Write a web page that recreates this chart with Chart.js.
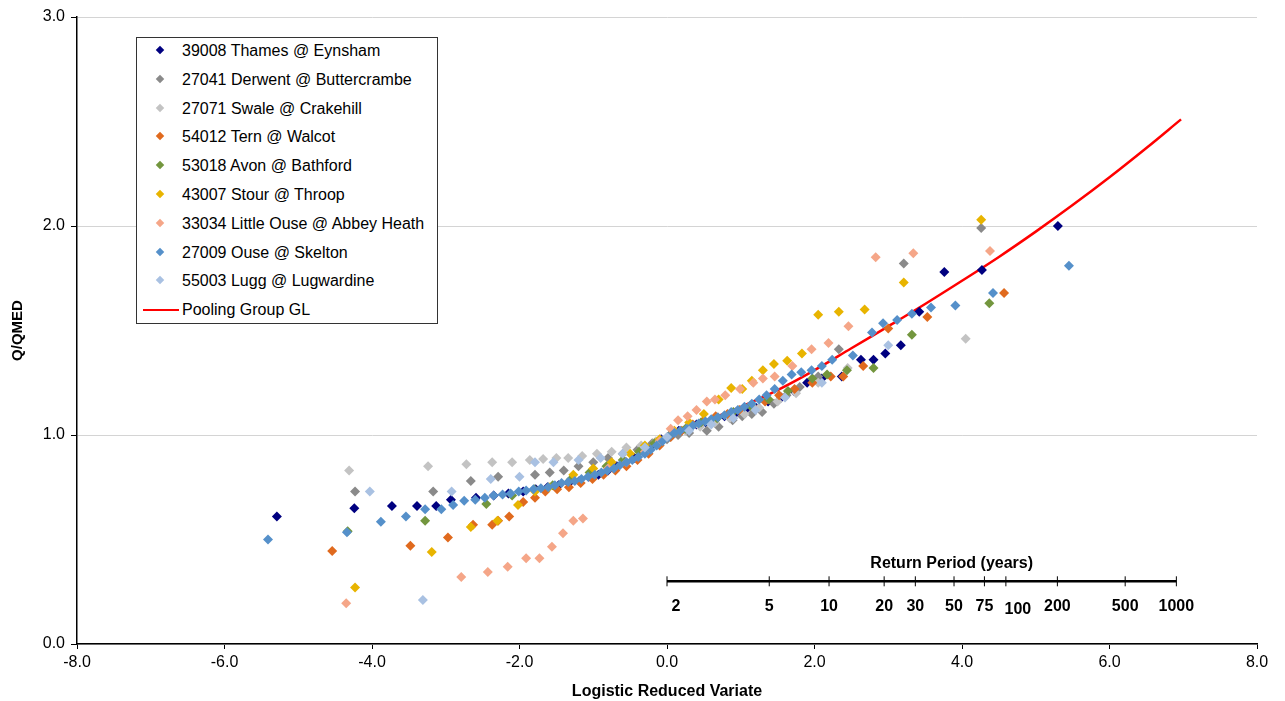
<!DOCTYPE html>
<html>
<head>
<meta charset="utf-8">
<script src="https://cdn.jsdelivr.net/npm/chart.js@4/dist/chart.umd.min.js"></script>
<style>
  body { margin: 0; background: #fff; }
  #wrap { position: relative; width: 1285px; height: 701px; }
  #legend {
    position: absolute; left: 136px; top: 37px; width: 302px; height: 287px;
    border: 1px solid #333; background: #fff; box-sizing: border-box;
    font-family: "Liberation Sans", Arial, sans-serif; font-size: 16px; color: #000;
  }
  .item { position: absolute; left: 0; height: 20px; line-height: 20px; white-space: nowrap; }
  .item .mk { position: absolute; left: 20px; top: 6px; width: 6px; height: 6px; transform: rotate(45deg); }
  .item .ln { position: absolute; left: 6px; top: 9px; width: 36px; height: 2px; background: #ff0000; }
  .item .tx { position: absolute; left: 45px; }
</style>
</head>
<body>
<div id="wrap">
  <canvas id="chart" width="1285" height="701"></canvas>
  <div id="legend"></div>
</div>
<script>
// station names for the legend
const stationNames = [
    '39008 Thames @ Eynsham',
    '27041 Derwent @ Buttercrambe',
    '27071 Swale @ Crakehill',
    '54012 Tern @ Walcot',
    '53018 Avon @ Bathford',
    '43007 Stour @ Throop',
    '33034 Little Ouse @ Abbey Heath',
    '27009 Ouse @ Skelton',
    '55003 Lugg @ Lugwardine'
];
const curveName = 'Pooling Group GL';

// [logistic reduced variate, Q/QMED]
const thames = [[-5.29,0.61],[-4.24,0.65],[-3.73,0.66],[-3.39,0.66],[-3.13,0.66],[-2.93,0.69],[-2.59,0.70],[-2.35,0.71],[-2.15,0.72],[-1.95,0.73],[-1.78,0.74],[-1.62,0.75],[-1.47,0.76],[-1.33,0.77],[-1.19,0.78],[-1.06,0.80],[-0.93,0.81],[-0.80,0.83],[-0.68,0.85],[-0.56,0.87],[-0.44,0.89],[-0.32,0.92],[-0.20,0.95],[-0.08,0.98],[0.04,1.00],[0.16,1.02],[0.28,1.03],[0.40,1.05],[0.52,1.06],[0.65,1.07],[0.78,1.09],[0.92,1.10],[1.06,1.12],[1.21,1.13],[1.37,1.16],[1.55,1.18],[1.72,1.21],[1.90,1.25],[2.10,1.27],[2.37,1.28],[2.63,1.36],[2.80,1.36],[2.96,1.39],[3.17,1.43],[3.42,1.59],[3.76,1.78],[4.27,1.79],[5.30,2.00]];
const derwent = [[-4.23,0.73],[-3.17,0.73],[-2.66,0.78],[-2.29,0.80],[-1.79,0.81],[-1.59,0.82],[-1.40,0.83],[-1.20,0.85],[-1.00,0.87],[-0.80,0.89],[-0.60,0.91],[-0.40,0.93],[-0.20,0.96],[0.00,0.98],[0.15,1.00],[0.30,1.01],[0.54,1.02],[0.70,1.04],[0.89,1.07],[1.02,1.09],[1.15,1.10],[1.29,1.11],[1.45,1.15],[1.62,1.19],[1.80,1.23],[2.05,1.28],[2.33,1.41],[3.21,1.82],[4.26,1.99]];
const swale = [[-4.31,0.83],[-3.24,0.85],[-2.72,0.86],[-2.37,0.87],[-2.10,0.87],[-1.86,0.88],[-1.68,0.885],[-1.50,0.89],[-1.34,0.89],[-1.15,0.90],[-0.95,0.91],[-0.75,0.92],[-0.55,0.94],[-0.35,0.95],[-0.15,0.97],[0.05,0.99],[0.25,1.02],[0.45,1.04],[0.65,1.06],[0.85,1.08],[1.05,1.10],[1.25,1.13],[1.50,1.16],[1.75,1.20],[2.05,1.25],[2.45,1.32],[4.05,1.46]];
const tern = [[-4.54,0.445],[-3.48,0.47],[-2.97,0.51],[-2.63,0.57],[-2.37,0.57],[-2.29,0.59],[-2.14,0.61],[-1.95,0.68],[-1.79,0.70],[-1.65,0.73],[-1.49,0.74],[-1.33,0.75],[-1.17,0.77],[-1.01,0.79],[-0.86,0.81],[-0.70,0.83],[-0.55,0.85],[-0.40,0.88],[-0.25,0.91],[-0.10,0.95],[0.05,0.99],[0.20,1.02],[0.35,1.05],[0.50,1.07],[0.66,1.09],[0.82,1.10],[0.98,1.12],[1.15,1.14],[1.33,1.16],[1.52,1.19],[1.73,1.22],[1.97,1.25],[2.22,1.28],[2.39,1.28],[2.66,1.33],[3.00,1.51],[3.53,1.565],[4.57,1.68]];
const avon = [[-4.33,0.54],[-3.28,0.59],[-2.45,0.67],[-2.10,0.71],[-1.80,0.74],[-1.55,0.76],[-1.30,0.79],[-1.05,0.82],[-0.82,0.85],[-0.60,0.88],[-0.38,0.92],[-0.17,0.96],[0.04,1.00],[0.25,1.03],[0.46,1.06],[0.68,1.08],[0.90,1.11],[1.13,1.14],[1.38,1.17],[1.64,1.21],[1.97,1.27],[2.17,1.29],[2.44,1.31],[2.80,1.32],[3.32,1.48],[4.37,1.63]];
const stour = [[-4.23,0.27],[-3.19,0.44],[-2.66,0.56],[-2.30,0.59],[-2.02,0.665],[-1.79,0.73],[-1.60,0.75],[-1.27,0.81],[-1.00,0.84],[-0.75,0.87],[-0.50,0.91],[-0.30,0.95],[-0.10,0.98],[0.10,1.02],[0.30,1.06],[0.50,1.10],[0.70,1.17],[0.87,1.225],[1.02,1.22],[1.15,1.26],[1.30,1.31],[1.45,1.34],[1.63,1.355],[1.83,1.39],[2.05,1.575],[2.33,1.59],[2.68,1.60],[3.21,1.73],[4.26,2.03]];
const littleOuse = [[-4.35,0.195],[-2.79,0.32],[-2.43,0.345],[-2.16,0.37],[-1.91,0.41],[-1.73,0.41],[-1.56,0.465],[-1.41,0.53],[-1.27,0.59],[-1.14,0.60],[-0.80,0.84],[-0.55,0.87],[-0.30,0.92],[-0.10,0.97],[0.05,1.03],[0.15,1.07],[0.28,1.09],[0.40,1.12],[0.54,1.16],[0.65,1.17],[0.79,1.19],[0.99,1.22],[1.17,1.25],[1.30,1.27],[1.46,1.28],[1.70,1.33],[1.96,1.41],[2.19,1.44],[2.46,1.52],[2.83,1.85],[3.34,1.87],[4.38,1.88]];
const ouse = [[-5.41,0.50],[-4.34,0.535],[-3.88,0.585],[-3.54,0.61],[-3.28,0.645],[-3.06,0.645],[-2.90,0.665],[-2.75,0.685],[-2.60,0.69],[-2.47,0.70],[-2.35,0.71],[-2.23,0.715],[-2.12,0.72],[-2.01,0.73],[-1.91,0.735],[-1.81,0.74],[-1.71,0.745],[-1.61,0.75],[-1.52,0.76],[-1.43,0.77],[-1.34,0.775],[-1.25,0.78],[-1.16,0.79],[-1.07,0.80],[-0.98,0.81],[-0.89,0.82],[-0.81,0.83],[-0.72,0.84],[-0.64,0.855],[-0.55,0.87],[-0.47,0.88],[-0.39,0.895],[-0.30,0.91],[-0.22,0.93],[-0.14,0.95],[-0.06,0.97],[0.02,0.99],[0.10,1.01],[0.18,1.02],[0.27,1.03],[0.35,1.045],[0.43,1.055],[0.52,1.065],[0.60,1.075],[0.69,1.085],[0.78,1.095],[0.87,1.11],[0.96,1.12],[1.05,1.135],[1.15,1.15],[1.25,1.17],[1.35,1.19],[1.46,1.22],[1.57,1.26],[1.69,1.29],[1.82,1.30],[1.96,1.31],[2.10,1.33],[2.24,1.36],[2.52,1.38],[2.78,1.49],[2.93,1.535],[3.12,1.55],[3.32,1.58],[3.58,1.61],[3.91,1.62],[4.42,1.68],[5.45,1.81]];
const lugg = [[-4.03,0.73],[-3.31,0.21],[-2.92,0.73],[-2.39,0.79],[-2.00,0.80],[-1.79,0.87],[-1.54,0.87],[-1.20,0.88],[-0.90,0.89],[-0.60,0.91],[-0.30,0.94],[0.00,0.99],[0.30,1.02],[0.60,1.05],[0.90,1.08],[1.20,1.12],[1.60,1.18],[2.10,1.25],[3.00,1.43]];

// pooling group growth curve
const glVariate = [0, 0.5, 1.0, 1.5, 2.0, 2.5, 3.0, 3.5, 4.0, 4.5, 5.0, 5.5, 6.0, 6.5, 6.97];
const glGrowth = [1.00, 1.065, 1.135, 1.215, 1.31, 1.415, 1.52, 1.627, 1.738, 1.852, 1.973, 2.10, 2.233, 2.373, 2.51];

// return period scale drawn inside the plot
const returnPeriods = [2, 5, 10, 20, 30, 50, 75, 100, 200, 500, 1000];
const rpAxisLevel = 0.30;

const stationSeries = [thames, derwent, swale, tern, avon, stour, littleOuse, ouse, lugg];
const stationColors = ['#000080', '#8a8a8a', '#c3c3c3', '#e06a1e', '#73963e', '#e8b400', '#f5a688', '#5590ca', '#a9c1e2'];

const datasets = stationSeries.map((s, i) => ({
    label: stationNames[i],
    data: s.map(p => ({ x: p[0], y: p[1] })),
    backgroundColor: stationColors[i],
    borderWidth: 0,
    pointStyle: 'rectRot',
    pointRadius: 5,
    showLine: false,
    order: stationSeries.length - i
}));
datasets.push({
    label: curveName,
    data: glVariate.map((v, i) => ({ x: v, y: glGrowth[i] })),
    borderColor: '#ff0000',
    borderWidth: 2.5,
    pointRadius: 0,
    showLine: true,
    tension: 0.4,
    order: 20
});

const rpLabelShift = { 2: 9, 100: 12 };

const returnPeriodAxis = {
    id: 'returnPeriodAxis',
    afterDatasetsDraw(chart) {
        const ctx = chart.ctx;
        const xs = chart.scales.x, ys = chart.scales.y;
        const yPix = ys.getPixelForValue(rpAxisLevel);
        const pix = returnPeriods.map(t => xs.getPixelForValue(Math.log(t - 1)));
        ctx.save();
        ctx.strokeStyle = '#000';
        ctx.lineWidth = 2.5;
        ctx.beginPath();
        ctx.moveTo(pix[0], yPix);
        ctx.lineTo(pix[pix.length - 1], yPix);
        ctx.stroke();
        ctx.lineWidth = 1;
        pix.forEach(p => {
            ctx.beginPath();
            ctx.moveTo(p, yPix - 5);
            ctx.lineTo(p, yPix + 5);
            ctx.stroke();
        });
        ctx.fillStyle = '#000';
        ctx.font = 'bold 16px "Liberation Sans", Arial, sans-serif';
        ctx.textAlign = 'center';
        ctx.textBaseline = 'middle';
        returnPeriods.forEach((t, i) => {
            const dy = t === 100 ? 3 : 0;
            ctx.fillText(String(t), pix[i] + (rpLabelShift[t] || 0), yPix + 25 + dy);
        });
        ctx.fillText('Return Period (years)', (pix[0] + pix[pix.length - 1]) / 2 + 30, yPix - 18);
        ctx.restore();
    }
};

const tickFont = { family: '"Liberation Sans", Arial, sans-serif', size: 16 };

new Chart(document.getElementById('chart'), {
    type: 'scatter',
    data: { datasets },
    options: {
        responsive: false,
        animation: false,
        layout: { padding: { top: 17, right: 28, left: 0, bottom: 0 } },
        plugins: { legend: { display: false }, tooltip: { enabled: false } },
        scales: {
            x: {
                min: -8, max: 8,
                ticks: { stepSize: 2, color: '#000', font: tickFont, padding: 4, maxRotation: 0,
                         callback: v => v.toFixed(1) },
                grid: { display: true, drawOnChartArea: false, color: '#000', tickLength: 5 },
                border: { color: '#000', width: 1.5 },
                title: { display: true, text: 'Logistic Reduced Variate', color: '#000',
                         font: { family: '"Liberation Sans", Arial, sans-serif', size: 16, weight: 'bold' },
                         padding: { top: 0, bottom: 0 } },
                afterFit: s => { s.height = 57; }
            },
            y: {
                min: 0, max: 3,
                ticks: { stepSize: 1, color: '#000', font: tickFont, padding: 6,
                         callback: v => v.toFixed(1) },
                grid: { color: '#d4d4d4', tickColor: '#000', tickLength: 6 },
                border: { color: '#000', width: 1.5 },
                title: { display: true, text: 'Q/QMED', color: '#000',
                         font: { family: '"Liberation Sans", Arial, sans-serif', size: 15, weight: 'bold' },
                         padding: { top: 9, bottom: 0 } },
                afterFit: s => { s.width = 77; }
            }
        }
    },
    plugins: [returnPeriodAxis]
});

// legend box
const legend = document.getElementById('legend');
stationNames.concat([curveName]).forEach((name, i) => {
    const row = document.createElement('div');
    row.className = 'item';
    row.style.top = (3 + i * 28.8) + 'px';
    const mark = i < stationNames.length
        ? `<span class="mk" style="background:${stationColors[i]}"></span>`
        : '<span class="ln"></span>';
    row.innerHTML = mark + `<span class="tx">${name}</span>`;
    legend.appendChild(row);
});
</script>
</body>
</html>
